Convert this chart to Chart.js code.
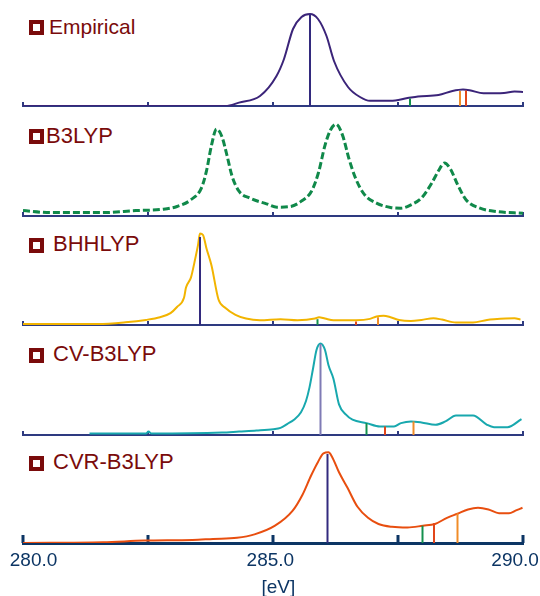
<!DOCTYPE html>
<html>
<head>
<meta charset="utf-8">
<script src="https://cdn.jsdelivr.net/npm/chart.js@4.4.1/dist/chart.umd.min.js"></script>
<style>
  html, body { margin: 0; padding: 0; background: #fff; overflow: hidden; }
  body { width: 540px; height: 596px; position: relative; font-family: "Liberation Sans", Arial, sans-serif; }
  canvas { position: absolute; left: 0; }
  .box { position: absolute; left: 29px; width: 15px; height: 15px; border: 4px solid #7a0b0b; box-sizing: border-box; }
  .name { position: absolute; color: #7a0b0b; font-size: 22px; line-height: 22px; white-space: pre; }
</style>
</head>
<body>
<div class="box" style="top:19.5px"></div><div class="name" style="left:49px;top:15.7px;font-size:21px;line-height:21px">Empirical</div>
<div class="box" style="top:129px"></div><div class="name" style="left:46px;top:125px">B3LYP</div>
<div class="box" style="top:238px"></div><div class="name" style="left:53px;top:233px">BHHLYP</div>
<div class="box" style="top:348px"></div><div class="name" style="left:53px;top:343px">CV-B3LYP</div>
<div class="box" style="top:456px"></div><div class="name" style="left:53px;top:451px">CVR-B3LYP</div>

<canvas id="p1" width="540" height="104" style="top:6px"></canvas>
<canvas id="p2" width="540" height="104" style="top:116px"></canvas>
<canvas id="p3" width="540" height="104" style="top:225px"></canvas>
<canvas id="p4" width="540" height="104" style="top:335px"></canvas>
<canvas id="p5" width="540" height="156" style="top:443px"></canvas>

<script>
// x range and tick labels [eV]
var xMin = 280, xMax = 290, xStep = 2.5;
var xTickValues = [280, 285, 290];
var xTickLabels = ['280.0', '285.0', '290.0'];

// Empirical
var empEnergy = [280.0, 284.05, 284.32, 284.74, 285.07, 285.22, 285.40, 285.57, 285.74, 285.90, 286.07, 286.22, 286.50, 286.74, 286.94, 287.35, 287.69, 287.90, 288.31, 288.59, 288.80, 288.93, 289.21, 289.62, 289.83, 290.0];
var empIntensity = [0, 0, 3.4, 10, 30, 47, 77, 89, 92, 87, 70, 45, 19, 9, 5.2, 5.2, 7.9, 9.6, 11, 15, 16.5, 15.8, 12.7, 13, 14.4, 14.1];
var empSticks = [285.74, 287.74, 288.74, 288.86];
var empStickHeights = [92, 7.4, 15, 15.5];

// B3LYP
var b3Energy = [280.0, 280.54, 281.57, 282.26, 282.81, 283.08, 283.36, 283.57, 283.67, 283.77, 283.87, 283.98, 284.08, 284.18, 284.32, 284.53, 284.87, 285.08, 285.35, 285.56, 285.77, 285.91, 286.04, 286.15, 286.26, 286.39, 286.52, 286.66, 286.83, 287.07, 287.35, 287.56, 287.76, 287.97, 288.18, 288.31, 288.43, 288.55, 288.69, 288.86, 289.14, 289.48, 290.0];
var b3Intensity = [5.4, 3.4, 3.4, 5.4, 6.8, 9.5, 16.3, 28.2, 45.2, 70.7, 87, 79.2, 60.5, 40.1, 24.8, 18, 12.2, 8.8, 9.5, 14.6, 24.8, 43.5, 70.7, 86, 91.8, 80.9, 57.1, 36.7, 21.4, 12.9, 8.5, 7.8, 11.2, 18, 33.3, 45.2, 53, 46.9, 31.6, 16.3, 7.8, 4.4, 2.7];

// BHHLYP
var bhEnergy = [280.0, 281.50, 282.05, 282.46, 282.74, 282.95, 283.08, 283.22, 283.26, 283.36, 283.43, 283.50, 283.54, 283.60, 283.67, 283.77, 283.91, 284.05, 284.25, 284.46, 284.74, 285.15, 285.49, 285.84, 285.92, 286.04, 286.21, 286.66, 286.94, 287.07, 287.21, 287.35, 287.52, 287.76, 287.97, 288.21, 288.38, 288.66, 289.00, 289.28, 289.42, 289.83, 289.95];
var bhIntensity = [1, 1, 2.7, 5.1, 7.8, 11.9, 18, 27.2, 37.4, 47.6, 62.9, 79.9, 91.5, 90, 76.5, 59.5, 25.5, 17, 10.2, 6.5, 4.8, 5.8, 4.8, 6.5, 7.8, 6.5, 4.8, 4.8, 6.1, 8.5, 9.2, 7.8, 5.1, 4.1, 5.1, 6.8, 5.4, 2.4, 2.4, 5.1, 5.8, 6.8, 5.4];
var bhSticks = [283.54, 285.89, 286.66, 287.10];
var bhStickHeights = [88, 5.8, 3.4, 7.8];

// CV-B3LYP
var cvEnergy = [281.33, 282.46, 282.51, 282.57, 283.98, 284.32, 284.67, 285.01, 285.15, 285.29, 285.42, 285.56, 285.66, 285.73, 285.80, 285.87, 285.95, 286.04, 286.11, 286.21, 286.32, 286.46, 286.59, 286.87, 287.14, 287.42, 287.56, 287.76, 287.97, 288.25, 288.45, 288.66, 289.00, 289.28, 289.42, 289.69, 289.97];
var cvIntensity = [1.4, 1.4, 3.4, 1.4, 2.4, 3.4, 4.4, 5.8, 7.1, 11.2, 15.3, 22.8, 34, 47.6, 66.3, 85, 91.5, 85, 69.7, 56.1, 30.6, 20.4, 15.3, 11.9, 8.5, 8.5, 11.9, 13.6, 12.6, 10.2, 13.6, 19.4, 19.4, 10.2, 7.8, 7.8, 15.9];
var cvSticks = [285.95, 286.87, 287.24, 287.81];
var cvStickHeights = [91, 11.9, 8.5, 13.6];

// CVR-B3LYP
var cvrEnergy = [280.0, 281.60, 282.42, 283.39, 283.80, 284.28, 284.63, 285.04, 285.39, 285.59, 285.76, 285.90, 286.01, 286.11, 286.18, 286.32, 286.49, 286.69, 286.90, 287.11, 287.38, 287.69, 288.00, 288.24, 288.48, 288.69, 288.90, 289.10, 289.31, 289.52, 289.72, 289.86, 289.99];
var cvrIntensity = [0, 0.7, 2.4, 3.1, 4.1, 5.2, 8.6, 17.3, 32.1, 48.3, 67.3, 81.1, 89.7, 90.7, 86.3, 70.7, 55.2, 36.2, 25.2, 19, 16.2, 15.5, 17.3, 19, 25.2, 29.3, 33.5, 35.2, 33.5, 29.8, 29.8, 32.6, 35.2];
var cvrSticks = [286.09, 287.99, 288.22, 288.69];
var cvrStickHeights = [89, 17.3, 19.7, 29.7];

var NAVY = '#332a7e', GREEN = '#14904e', RED = '#e2461a', ORANGE = '#f08c28';

// tick marks drawn upward from the axis line
var innerTicks = {
  id: 'innerTicks',
  beforeDatasetsDraw: function(chart, args, opts) {
    var sx = chart.scales.x, ctx = chart.ctx, y = chart.chartArea.bottom;
    ctx.save();
    ctx.strokeStyle = opts.color;
    ctx.lineWidth = opts.width;
    sx.ticks.forEach(function(t) {
      var px = Math.round(sx.getPixelForValue(t.value));
      ctx.beginPath();
      ctx.moveTo(px, y);
      ctx.lineTo(px, y - opts.length);
      ctx.stroke();
    });
    ctx.restore();
  }
};

function pts(xs, ys) {
  return xs.map(function(x, i) { return {x: x, y: ys[i]}; });
}

function makePanel(id, energy, intensity, color, dash, width, sticks, heights, stickColors, bottom) {
  var datasets = [];
  (sticks || []).forEach(function(e, i) {
    datasets.push({
      data: [{x: e, y: 0}, {x: e, y: heights[i]}],
      borderColor: stickColors[i], borderWidth: 2, pointRadius: 0, order: 0
    });
  });
  datasets.push({
    data: pts(energy, intensity),
    borderColor: color, borderWidth: width, borderDash: dash,
    pointRadius: 0, cubicInterpolationMode: 'monotone', order: 1
  });

  var xScale = {
    type: 'linear', min: xMin, max: xMax,
    grid: { display: false, drawTicks: false },
    border: { display: true, color: bottom ? '#0c3564' : '#2e3a80', width: bottom ? 3 : 2 },
    ticks: { display: false, stepSize: xStep }
  };
  if (bottom) {
    // pad with spaces so labels sit like in the original
    var pad = {280: ['    ', ''], 285: ['', ' '], 290: ['', '   ']};
    xScale.ticks = {
      display: true, stepSize: xStep, maxRotation: 0, autoSkip: false, padding: 6,
      color: '#0c3564', font: { family: '"Liberation Sans", Arial, sans-serif', size: 19 },
      callback: function(v) {
        var k = xTickValues.indexOf(v);
        return k < 0 ? '' : pad[v][0] + xTickLabels[k] + pad[v][1];
      }
    };
    xScale.title = {
      display: true, text: '  [eV]', color: '#0c3564', padding: {top: 0, bottom: 0},
      font: { family: '"Liberation Sans", Arial, sans-serif', size: 19 }
    };
    xScale.afterFit = function(s) { s.height = 56; s.paddingLeft = 0; s.paddingRight = 0; };
  }

  return new Chart(document.getElementById(id), {
    type: 'line',
    data: { datasets: datasets },
    options: {
      responsive: false, animation: false, devicePixelRatio: 1,
      layout: { padding: { left: 23, right: 17, top: 0, bottom: bottom ? 0 : 4 } },
      plugins: {
        legend: { display: false }, tooltip: { enabled: false },
        innerTicks: bottom ? { color: '#0c3564', width: 3, length: 8 } : { color: '#2e3a80', width: 2, length: 4 }
      },
      scales: {
        x: xScale,
        y: { display: false, min: 0, max: 100 }
      }
    },
    plugins: [innerTicks]
  });
}

makePanel('p1', empEnergy, empIntensity, '#3b2479', [], 2, empSticks, empStickHeights, [NAVY, GREEN, ORANGE, RED], false);
makePanel('p2', b3Energy, b3Intensity, '#10894a', [7, 3], 3, null, null, null, false);
makePanel('p3', bhEnergy, bhIntensity, '#f2b400', [], 2, bhSticks, bhStickHeights, [NAVY, GREEN, RED, ORANGE], false);
makePanel('p4', cvEnergy, cvIntensity, '#18a8ae', [], 2, cvSticks, cvStickHeights, ['#7f7bb5', GREEN, RED, ORANGE], false);
makePanel('p5', cvrEnergy, cvrIntensity, '#e84e0f', [], 2, cvrSticks, cvrStickHeights, [NAVY, GREEN, RED, ORANGE], true);
</script>
</body>
</html>
